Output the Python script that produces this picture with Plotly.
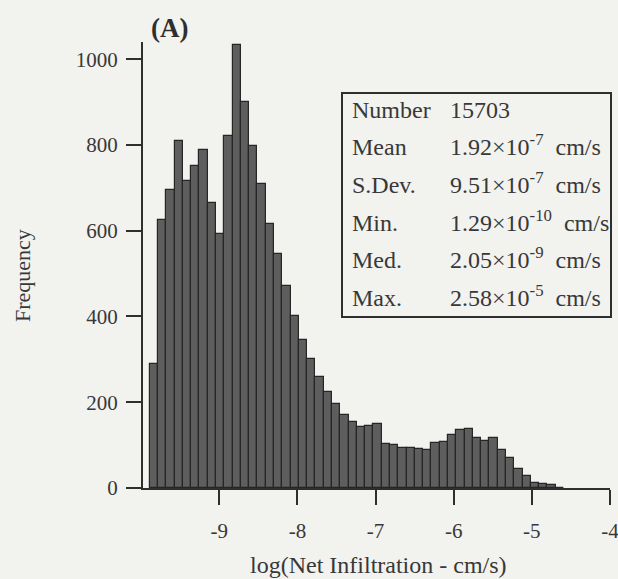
import math
import plotly.graph_objects as go

# Histogram of log10(net infiltration, cm/s): 50 equal-width bins between the
# sample minimum and maximum.
counts = [290, 626, 696, 808, 715, 752, 789, 664, 592, 821,
          1034, 901, 797, 710, 615, 545, 472, 400, 345, 300,
          258, 225, 195, 170, 155, 142, 145, 150, 102, 100,
          94, 93, 92, 89, 106, 108, 124, 136, 138, 117,
          110, 117, 88, 70, 45, 27, 12, 9, 7, 1]

sample_min = 1.29e-10   # cm/s
sample_max = 2.58e-5    # cm/s

stat_labels = ["Number", "Mean", "S.Dev.", "Min.", "Med.", "Max."]
stat_values = ["15703",
               "1.92×10<sup>-7</sup>  cm/s",
               "9.51×10<sup>-7</sup>  cm/s",
               "1.29×10<sup>-10</sup>  cm/s",
               "2.05×10<sup>-9</sup>  cm/s",
               "2.58×10<sup>-5</sup>  cm/s"]

x_ticks = [-9, -8, -7, -6, -5, -4]
y_ticks = [0, 200, 400, 600, 800, 1000]

lo = math.log10(sample_min)
hi = math.log10(sample_max)
width = (hi - lo) / len(counts)
centers = [lo + (i + 0.5) * width for i in range(len(counts))]

W, H = 618, 579
L, R, T, B = 143, 8, 42, 91
plot_w = W - L - R
plot_h = H - T - B


def px(x):
    return (x - L) / plot_w


def py(y):
    return (H - B - y) / plot_h


serif = "Liberation Serif, Times New Roman, serif"
ink = "#2e2e2e"
text_col = "#383838"
paper = "#f2f2ef"

fig = go.Figure()
fig.add_trace(go.Bar(
    x=centers, y=counts, width=width,
    marker=dict(color="#5e5e5e", line=dict(color="#262626", width=1.2)),
    showlegend=False,
))

axis_common = dict(
    showline=True, linecolor=ink, linewidth=2,
    ticks="outside", ticklen=15, tickwidth=2, tickcolor=ink,
    showgrid=False, zeroline=False, automargin=False,
    tickfont=dict(family=serif, size=21, color=text_col),
    ticklabeloverflow="allow",
)

fig.update_layout(
    width=W, height=H,
    margin=dict(l=L, r=R, t=T, b=B),
    paper_bgcolor=paper, plot_bgcolor=paper,
    bargap=0,
    xaxis=dict(range=[-9.976, -4.0], tickvals=x_ticks,
               ticktext=[str(v) for v in x_ticks], ticklabelstandoff=8,
               **axis_common),
    yaxis=dict(range=[0, 1040], tickvals=y_ticks,
               ticktext=[str(v) for v in y_ticks], ticklabelstandoff=4,
               **axis_common),
)

# Axis titles and panel tag
fig.add_annotation(text="log(Net Infiltration - cm/s)", xref="paper", yref="paper",
                   x=px(378), y=py(565), xanchor="center", yanchor="middle",
                   showarrow=False, font=dict(family=serif, size=24, color=text_col))
fig.add_annotation(text="Frequency", xref="paper", yref="paper",
                   x=px(22), y=py(276), xanchor="center", yanchor="middle",
                   showarrow=False, textangle=-90,
                   font=dict(family=serif, size=22, color=text_col))
fig.add_annotation(text="<b>(A)</b>", xref="paper", yref="paper",
                   x=px(169), y=py(28), xanchor="center", yanchor="middle",
                   showarrow=False, font=dict(family=serif, size=27, color=ink))

# Summary statistics box
fig.add_shape(type="rect", xref="paper", yref="paper",
              x0=px(342), x1=px(611), y0=py(317), y1=py(93),
              line=dict(color=ink, width=2), fillcolor=paper)
row_y = [112, 149.5, 187, 224.5, 262, 299.5]
for lab, val, yy in zip(stat_labels, stat_values, row_y):
    for txt, xx in ((lab, 350), (val, 448)):
        fig.add_annotation(text=txt, xref="paper", yref="paper",
                           x=px(xx), y=py(yy + 13),
                           xanchor="left", yanchor="bottom", showarrow=False,
                           font=dict(family=serif, size=24, color=text_col))

fig.write_html("out.html")
